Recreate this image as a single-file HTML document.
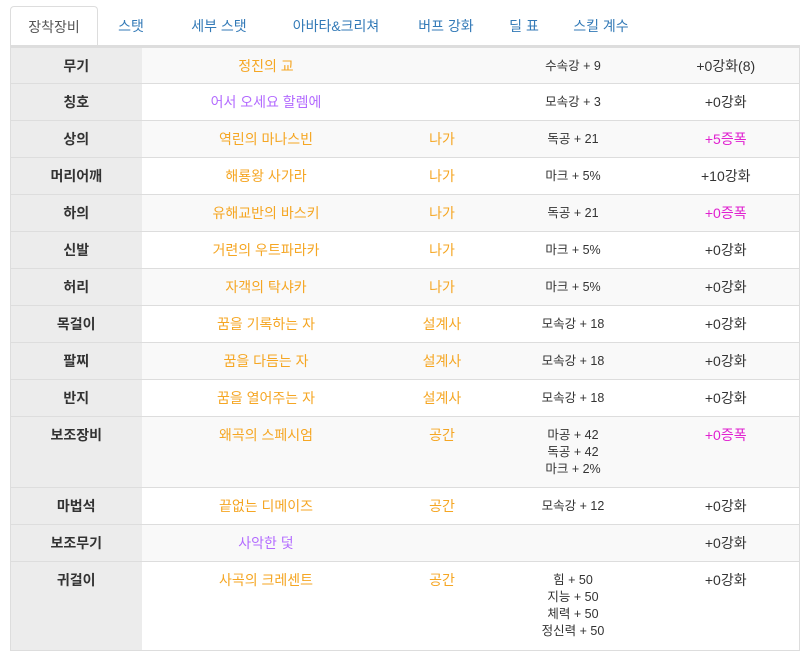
<!DOCTYPE html>
<html><head><meta charset="utf-8">
<style>
body{margin:0;width:807px;height:660px;background:#fff;font-family:"Liberation Sans","Noto Sans CJK KR",sans-serif;overflow:hidden;position:relative}
.tabs{position:absolute;left:10px;top:6px;height:42px;display:flex}
.tab{font-size:14px;color:#337ab7;line-height:40px;padding:0 0;text-align:center}
.tab.active{color:#555;border:1px solid #ddd;border-bottom:none;border-radius:4px 4px 0 0;background:#fff}
table{position:absolute;left:10px;top:45px;border-collapse:collapse;table-layout:fixed;width:789px;border-top:3px solid #ddd;border-left:1px solid #ddd;border-right:1px solid #ddd}
td{border-bottom:1px solid #ddd;vertical-align:top;padding:10px 4px 0;text-align:center;line-height:17px;font-size:14px;box-sizing:border-box}
td.l{background:#ececec;font-weight:bold;color:#333;font-size:14px}
tr:nth-child(odd) td:not(.l){background:#f9f9f9}
td.s{font-size:12.5px;color:#333}
td.e{font-size:14px;color:#333}
.o{color:#f5a623}.p{color:#b36bff}.m{color:#e020d0}
</style></head><body>
<div class="tabs">
<div class="tab active" style="width:86px">장착장비</div>
<div class="tab" style="width:66px">스탯</div>
<div class="tab" style="width:110px">세부 스탯</div>
<div class="tab" style="width:124px">아바타&amp;크리쳐</div>
<div class="tab" style="width:96px">버프 강화</div>
<div class="tab" style="width:60px">딜 표</div>
<div class="tab" style="width:94px">스킬 계수</div>
</div>
<table>
<colgroup><col style="width:131px"><col style="width:249px"><col style="width:103px"><col style="width:159px"><col style="width:147px"></colgroup>
<tr style="height:37px"><td class="l">무기</td><td class="o">정진의 교</td><td></td><td class="s">수속강 + 9</td><td class="e">+0강화(8)</td></tr>
<tr style="height:37px"><td class="l">칭호</td><td class="p">어서 오세요 할렘에</td><td></td><td class="s">모속강 + 3</td><td class="e">+0강화</td></tr>
<tr style="height:37px"><td class="l">상의</td><td class="o">역린의 마나스빈</td><td class="o">나가</td><td class="s">독공 + 21</td><td class="m">+5증폭</td></tr>
<tr style="height:37px"><td class="l">머리어깨</td><td class="o">해룡왕 사가라</td><td class="o">나가</td><td class="s">마크 + 5%</td><td class="e">+10강화</td></tr>
<tr style="height:37px"><td class="l">하의</td><td class="o">유해교반의 바스키</td><td class="o">나가</td><td class="s">독공 + 21</td><td class="m">+0증폭</td></tr>
<tr style="height:37px"><td class="l">신발</td><td class="o">거련의 우트파라카</td><td class="o">나가</td><td class="s">마크 + 5%</td><td class="e">+0강화</td></tr>
<tr style="height:37px"><td class="l">허리</td><td class="o">자객의 탁샤카</td><td class="o">나가</td><td class="s">마크 + 5%</td><td class="e">+0강화</td></tr>
<tr style="height:37px"><td class="l">목걸이</td><td class="o">꿈을 기록하는 자</td><td class="o">설계사</td><td class="s">모속강 + 18</td><td class="e">+0강화</td></tr>
<tr style="height:37px"><td class="l">팔찌</td><td class="o">꿈을 다듬는 자</td><td class="o">설계사</td><td class="s">모속강 + 18</td><td class="e">+0강화</td></tr>
<tr style="height:37px"><td class="l">반지</td><td class="o">꿈을 열어주는 자</td><td class="o">설계사</td><td class="s">모속강 + 18</td><td class="e">+0강화</td></tr>
<tr style="height:71px"><td class="l">보조장비</td><td class="o">왜곡의 스페시엄</td><td class="o">공간</td><td class="s">마공 + 42<br>독공 + 42<br>마크 + 2%</td><td class="m">+0증폭</td></tr>
<tr style="height:37px"><td class="l">마법석</td><td class="o">끝없는 디메이즈</td><td class="o">공간</td><td class="s">모속강 + 12</td><td class="e">+0강화</td></tr>
<tr style="height:37px"><td class="l">보조무기</td><td class="p">사악한 덫</td><td></td><td class="s"></td><td class="e">+0강화</td></tr>
<tr style="height:89px"><td class="l">귀걸이</td><td class="o">사곡의 크레센트</td><td class="o">공간</td><td class="s">힘 + 50<br>지능 + 50<br>체력 + 50<br>정신력 + 50</td><td class="e">+0강화</td></tr>
</table>
</body></html>
